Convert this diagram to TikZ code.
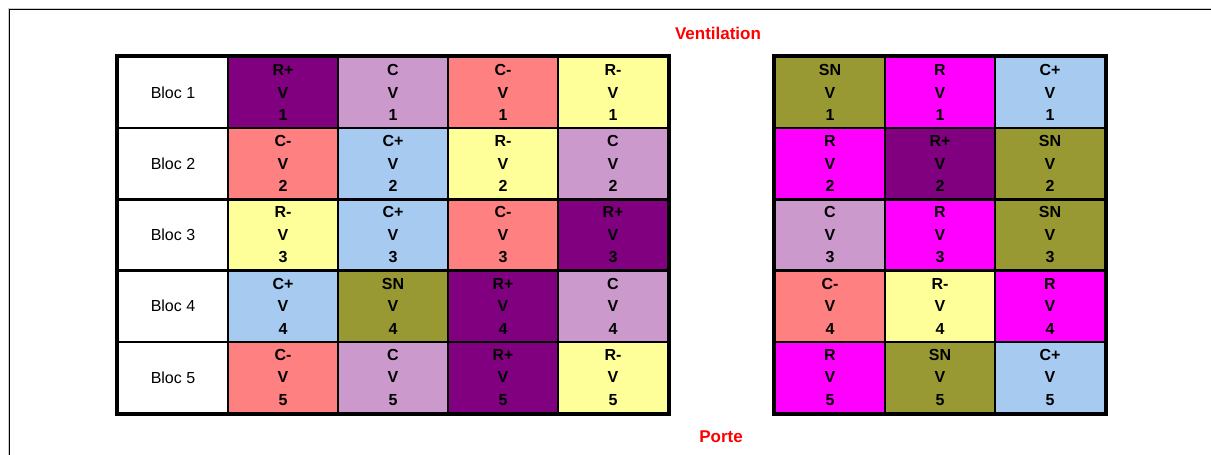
\documentclass[tikz,border=0pt]{standalone}
\usepackage{fontspec}
\setmainfont{Liberation Sans}
\definecolor{purp}{HTML}{800080}
\definecolor{lilas}{HTML}{CC99CC}
\definecolor{saumon}{HTML}{FF8080}
\definecolor{jaune}{HTML}{FFFF99}
\definecolor{bleu}{HTML}{A6CAF0}
\definecolor{olive}{HTML}{999933}
\definecolor{magenta}{HTML}{FF00FF}

\begin{document}
\begin{tikzpicture}[x=1pt,y=-1pt,
bloc/.style={draw,line width=2.5pt,minimum width=110pt,minimum height=71.2pt,inner sep=0pt,font=\fontsize{16}{22.5}\selectfont},
case/.style={bloc,align=center,font=\bfseries\fontsize{16}{22.5}\selectfont},
titre/.style={text=red,font=\bfseries\fontsize{17}{20}\selectfont}]
\useasboundingbox (0,0) rectangle (1211,455);
% cadre
\draw[gray!40,line width=0.8pt] (8,455) -- (8,8) -- (1211,8);
\draw[line width=1.5pt] (9.5,455) -- (9.5,9.5) -- (1211,9.5);
\node[titre] (vent) at (718,33) {Ventilation};
\node[titre] (porte) at (721,437) {Porte};
% blocs
\foreach \i in {1,...,5}
\node[bloc] (b\i) at (173,{57+71.2*(\i-0.5)}) {Bloc \i};
% tableau gauche
\foreach \txt/\clr [count=\k from 0] in {
R+/purp, C/lilas, C-/saumon, R-/jaune,
C-/saumon, C+/bleu, R-/jaune, C/lilas,
R-/jaune, C+/bleu, C-/saumon, R+/purp,
C+/bleu, SN/olive, R+/purp, C/lilas,
C-/saumon, C/lilas, R+/purp, R-/jaune}{
\pgfmathtruncatemacro{\r}{int(\k/4)+1}
\pgfmathtruncatemacro{\c}{mod(\k,4)+1}
\node[case,fill=\clr] (g\r\c) at ({228+110*(\c-0.5)},{57+71.2*(\r-0.5)}) {\txt\\V\\\r};
}
% tableau droite
\foreach \txt/\clr [count=\k from 0] in {
SN/olive, R/magenta, C+/bleu,
R/magenta, R+/purp, SN/olive,
C/lilas, R/magenta, SN/olive,
C-/saumon, R-/jaune, R/magenta,
R/magenta, SN/olive, C+/bleu}{
\pgfmathtruncatemacro{\r}{int(\k/3)+1}
\pgfmathtruncatemacro{\c}{mod(\k,3)+1}
\node[case,fill=\clr] (d\r\c) at ({775+110*(\c-0.5)},{57+71.2*(\r-0.5)}) {\txt\\V\\\r};
}
\draw[line width=3pt] (b1.north west) rectangle (g54.south east);
\draw[line width=3pt] (d11.north west) rectangle (d53.south east);
\end{tikzpicture}
\end{document}
